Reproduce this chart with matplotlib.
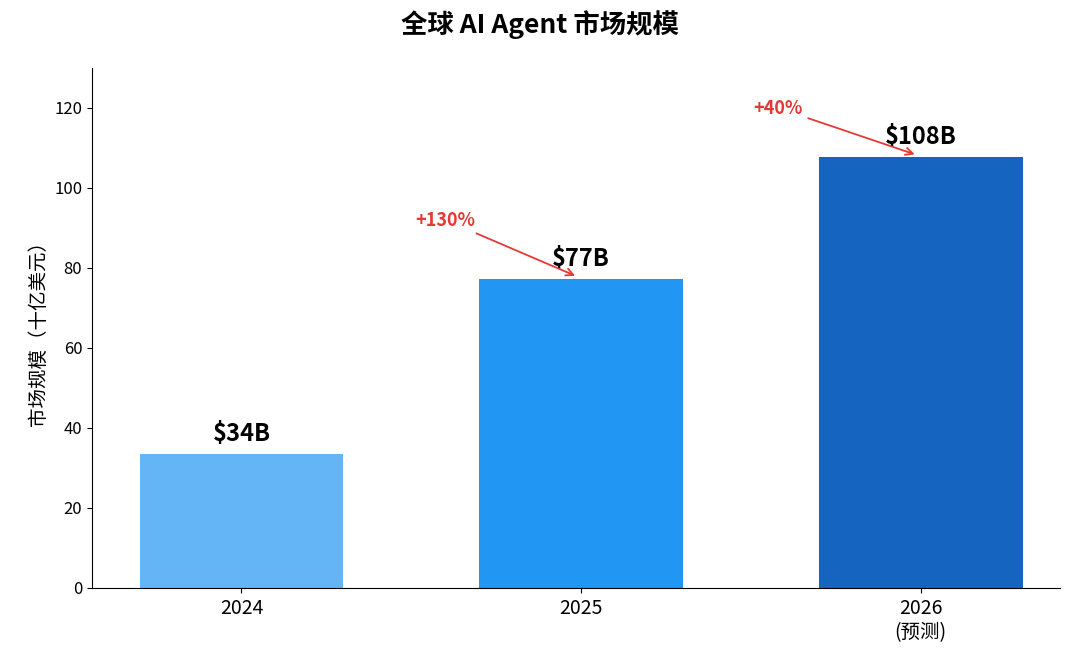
import matplotlib.pyplot as plt

plt.rcParams['font.family'] = ['Noto Sans CJK SC', 'DejaVu Sans']

years = ["2024", "2025", "2026\n(预测)"]
values = [33.5, 77.3, 107.7]
labels = ["$34B", "$77B", "$108B"]
colors = ["#64B5F6", "#2196F3", "#1565C0"]

fig = plt.figure(figsize=(10.8, 6.69), dpi=100)
ax = fig.add_axes([92 / 1080, 1 - 588 / 669, (1060 - 92) / 1080, (588 - 68) / 669])
x = range(len(values))
ax.bar(x, values, width=0.6, color=colors)
for i, (v, lab) in enumerate(zip(values, labels)):
    ax.text(i, v + 2, lab, ha="center", va="bottom", fontsize=17, fontweight="bold")

growth = [(1, 77.3, "+130%", (0.60, 92)), (2, 107.7, "+40%", (1.58, 120))]
for i, v, txt, pos in growth:
    ax.annotate(txt, xy=(i - 0.01, v + 0.5), xytext=pos, ha="center", va="center",
                fontsize=13, fontweight="bold", color="#E53935",
                arrowprops=dict(arrowstyle="->", color="#E53935", lw=1.3))

ax.set_xticks(list(x))
ax.set_xticklabels(years, fontsize=14)
ax.tick_params(axis="y", labelsize=12)
ax.set_xlim(-0.44, 2.41)
ax.set_ylim(0, 130)
ax.set_ylabel("市场规模（十亿美元）", fontsize=14)
ax.spines["top"].set_visible(False)
ax.spines["right"].set_visible(False)
fig.suptitle("全球 AI Agent 市场规模", fontsize=19, fontweight="bold", y=0.985)
fig.savefig("out.png", dpi=100)
